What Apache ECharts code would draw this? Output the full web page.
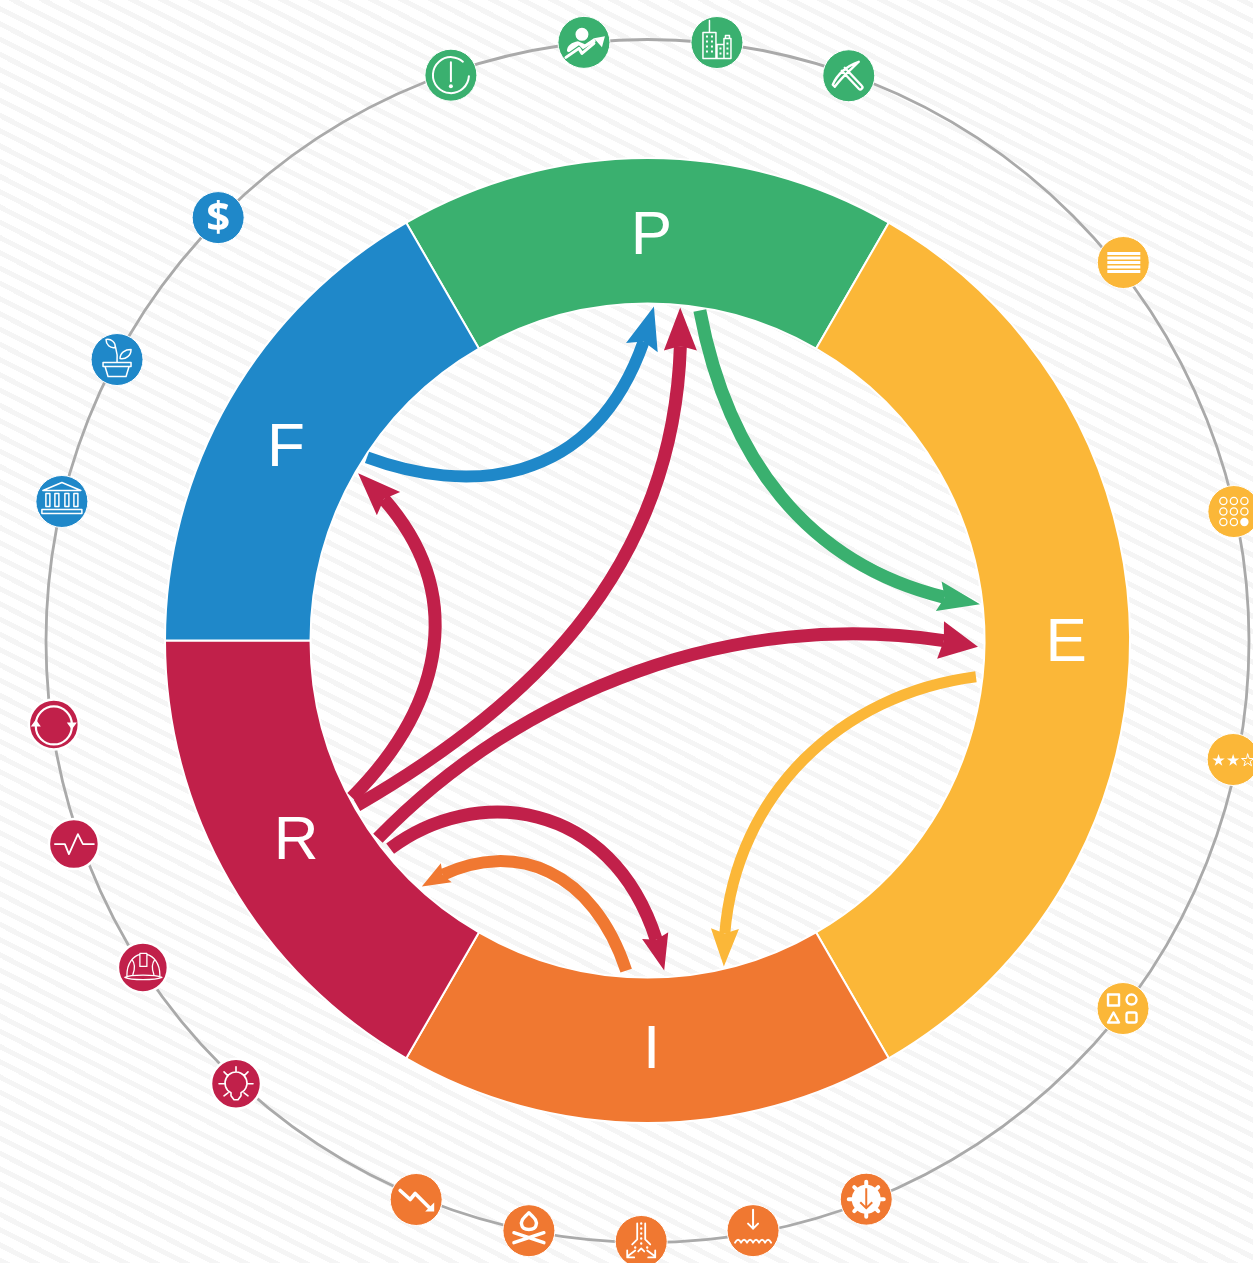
<!DOCTYPE html>
<html>
<head>
<meta charset="utf-8">
<title>PERFI ring</title>
<script src="https://cdn.jsdelivr.net/npm/echarts@6/dist/echarts.min.js"></script>
<style>
  html, body { margin: 0; padding: 0; background: #fff; overflow: hidden; }
  #main {
    width: 1253px; height: 1263px;
    background: repeating-linear-gradient(27deg, #f5f5f5 0, #f5f5f5 5px, #fff 5px, #fff 13.6px);
  }
</style>
</head>
<body>
<div id="main"></div>
<script>
// ring segments, clockwise from the upper left edge of P
var segmentNames = ['P', 'E', 'I', 'R', 'F'];
var segmentSpans = [60, 120, 60, 60, 60];
var segmentColors = ['#3ab06f', '#fbb738', '#f07831', '#c1204a', '#1f88c9'];

// arrows between segments
var arrowFrom = ['F', 'R', 'R', 'R', 'R', 'I', 'E', 'P'];
var arrowTo = ['P', 'P', 'F', 'E', 'I', 'R', 'I', 'E'];
// radius, angle of start, two bends, tip
var arrowPoints = [
  [335.2, 303.2, 229.5, 309.3, 155.1, 346.0, 334.6, 1.1],
  [333.8, 240.5, 134.0, 241.2, 91.0, 27.8, 335.1, 5.6],
  [334.4, 242.1, 197.0, 255.2, 195.0, 291.7, 334.5, 300.1],
  [334.1, 233.8, 124.0, 251.4, 119.6, 70.2, 330.5, 91.0],
  [330.7, 231.1, 218.0, 230.2, 160.5, 186.3, 329.9, 177.1],
  [330.2, 183.7, 226.9, 194.7, 244.1, 217.2, 333.4, 222.6],
  [330.4, 96.2, 190.5, 106.6, 184.4, 156.8, 334.4, 166.8],
  [334.6, 9.0, 189.4, 25.8, 182.8, 70.7, 334.5, 83.7]
];

// icons on the outer circle
var iconSegments = ['P', 'P', 'P', 'P', 'E', 'E', 'E', 'E', 'I', 'I', 'I', 'I', 'I', 'R', 'R', 'R', 'R', 'F', 'F', 'F'];
var iconAngles = [340.84, 353.94, 6.62, 19.6, 51.5, 77.55, 101.44, 127.7, 158.6, 169.85, 180.6, 191.37, 202.5, 222.9, 237.1, 250.5, 262, 283.4, 297.95, 314.6];
var iconRadii = [599, 602, 602.5, 600, 608, 600.5, 597.5, 601, 599.5, 599, 600.5, 601.5, 604.5, 604.5, 601, 608.5, 599.5, 602, 600.5, 603];

var arrowWidths = [12, 13, 13, 13, 13, 12, 11, 13];
var arrowHeadLengths = [43, 43, 43, 38, 36, 28, 38, 42];
var arrowHeadWidths = [33, 33, 33, 38, 27, 22, 28, 30];
var labelShift = [[4, 9], [6, 3], [4, -2], [6, -5], [-4, 15]];

function circle(x, y, r) {
  return 'M' + (x - r) + ' ' + y + 'A' + r + ' ' + r + ' 0 1 1 ' + (x + r) + ' ' + y + 'A' + r + ' ' + r + ' 0 1 1 ' + (x - r) + ' ' + y + 'Z';
}
function star(x, y) {
  var p = [[0,-6.5],[1.5,-2],[6.2,-2],[2.4,.8],[3.8,5.3],[0,2.6],[-3.8,5.3],[-2.4,.8],[-6.2,-2],[-1.5,-2]];
  return 'M' + p.map(function (q) { return (x + q[0]) + ' ' + (y + q[1]); }).join('L') + 'Z';
}

// white glyphs in a 52 box: s stroked, f filled, a stroked in the disc colour, t text
var iconGlyphs = [
  { w: 2, s: 'M44 27A18 18 0 1 1 38 12.5M26 13V32', f: circle(26, 37, 2) },
  { w: 3, s: 'M8 41L21 32L24 37L36 27', f: circle(24, 18, 6.5) + 'M9 35C9 29 14 26 20 25L27 28L36 22L38 25L25 33L21 29L11 36ZM47 20L36 22L44 31Z' },
  { w: 1.5, s: 'M18.5 4V16M12 16H25V42H12ZM26 28H33V42H26ZM33 22H40V42H33ZM34.5 22V19H38.5V22', f: 'M15 19h2v2h-2zM20 19h2v2h-2zM15 24h2v2h-2zM20 24h2v2h-2zM15 29h2v2h-2zM20 29h2v2h-2zM15 34h2v2h-2zM20 34h2v2h-2zM28.5 31h2v2h-2zM28.5 36h2v2h-2zM35.5 26h2v2h-2zM35.5 31h2v2h-2zM35.5 36h2v2h-2z' },
  { w: 2.4, s: 'M19 21L36 39C38 41 41 38 39 36L22 18M10 35C14 25 24 16 36 12C28 20 20 26 12 37Z' },
  { f: 'M10 15.5H43V18.5H10ZM10 20H43V23H10ZM10 24.5H43V27.5H10ZM10 29H43V32H10ZM10 33.5H43V36.5H10Z' },
  { w: 1.3, s: circle(15.5, 15.5, 3.6) + circle(26, 15.5, 3.6) + circle(36.5, 15.5, 3.6) + circle(15.5, 26, 3.6) + circle(26, 26, 3.6) + circle(36.5, 26, 3.6) + circle(15.5, 36.5, 3.6) + circle(26, 36.5, 3.6), f: circle(36.5, 36.5, 4.2) },
  { w: 1, s: star(40.6, 27), f: star(11.4, 27) + star(26, 27) },
  { w: 2.4, s: 'M11 12H22V23H11Z' + circle(34.5, 17, 5) + 'M16.5 30L22 40H11ZM31.5 30H37.5Q39.5 30 39.5 32V38Q39.5 40 37.5 40H31.5Q29.5 40 29.5 38V32Q29.5 30 31.5 30Z' },
  { w: 4, s: 'M26 8.5V12M26 40V43.5M8.5 26H12M40 26H43.5M14 14L16 16M38 14L36 16M14 38L16 36M38 38L36 36', f: circle(26, 26, 14.5), a: 'M26 15V35M20 29L26 35L32 29' },
  { w: 2, s: 'M26 5V24M21 19L26 24L31 19M8 38c2-4 4-4 6 0c2-4 4-4 6 0c2-4 4-4 6 0c2-4 4-4 6 0c2-4 4-4 6 0c2-4 4-4 6 0' },
  { w: 1.8, s: 'M22 8V24L17 29M30 8V24L35 29M20 35L12 41M32 35L40 41M12 35V42H19M40 35V42H33M23 36L26 33L29 36', f: circle(26, 8, 1.2) + circle(26, 13, 1.2) + circle(26, 18, 1.2) + circle(26, 23, 1.2) + circle(26, 28, 1.2) + circle(20, 32, 1.2) + circle(32, 32, 1.2) },
  { w: 3.4, s: 'M26 8C31 13 35 16 33 21C32 26 20 26 19 21C17 16 21 13 26 8ZM11 28L41 38M41 28L11 38' },
  { w: 3.6, s: 'M10 17L20 26L25 20L40 35', f: 'M44 38H35L44 29Z' },
  { w: 1.6, s: 'M21 35A11 11 0 1 1 31 35V38L28 42H24L21 38ZM26 9V14M9 26H14M38 26H43M14 14L18 18M38 14L34 18M14 38L18 35M38 38L34 35' },
  { w: 1.3, s: 'M8 36C14 39 38 39 45 36C38 33 14 33 8 36ZM10 34C10 22 16 15 23 13M30 13C37 15 43 22 43 34M23 12H30V25H23ZM15 18C18 22 18 28 16 33M38 18C35 22 35 28 37 33' },
  { w: 1.8, s: 'M7 26H17L21 36L30 16L35 26H46' },
  { w: 2.2, s: 'M8 26A18 18 0 0 1 44 26M44 28A18 18 0 0 1 8 28', f: 'M39 24H49L44 31ZM3 28H13L8 21Z' },
  { w: 1.5, s: 'M7 15L26 7L45 15ZM6 34H46V38H6ZM10 18H14V31H10ZM19 18H23V31H19ZM29 18H33V31H29ZM38 18H42V31H38Z' },
  { w: 1.5, s: 'M12 29H40V33H12ZM14 33L17 43H35L38 33M26 28C27 20 25 16 24 12M15 6C20 5 25 9 24 14C19 15 15 11 15 6ZM29 25C29 19 34 16 40 16C40 22 35 26 29 25Z' },
  { t: '$' }
];

function segmentColor(name) {
  return segmentColors[segmentNames.indexOf(name)];
}

function lerp(a, b, t) {
  return [a[0] + (b[0] - a[0]) * t, a[1] + (b[1] - a[1]) * t];
}
function dist(a, b) {
  return Math.sqrt((a[0] - b[0]) * (a[0] - b[0]) + (a[1] - b[1]) * (a[1] - b[1]));
}
// cut a cubic at t, returns first part
function cutCurve(p, t) {
  var a = lerp(p[0], p[1], t), b = lerp(p[1], p[2], t), c = lerp(p[2], p[3], t);
  var d = lerp(a, b, t), e = lerp(b, c, t);
  return [p[0], a, d, lerp(d, e, t)];
}

function renderArrow(params, api) {
  var i = params.dataIndex;
  var p = [0, 1, 2, 3].map(function (k) {
    return api.coord([api.value(k * 2), api.value(k * 2 + 1)]);
  });
  var color = segmentColor(arrowFrom[i]);
  var len = arrowHeadLengths[i], wide = arrowHeadWidths[i];
  var tip = p[3];

  // walk back from the tip until we reach the base of the head
  var t = 1, part = p;
  while (t > 0 && dist(part[3], tip) < len * 0.85) {
    t -= 0.004;
    part = cutCurve(p, t);
  }
  var neck = part[3];
  var ux = (tip[0] - neck[0]) / dist(tip, neck), uy = (tip[1] - neck[1]) / dist(tip, neck);
  var bx = tip[0] - ux * len, by = tip[1] - uy * len;

  return {
    type: 'group',
    children: [{
      type: 'bezierCurve',
      shape: {
        x1: part[0][0], y1: part[0][1], cpx1: part[1][0], cpy1: part[1][1],
        cpx2: part[2][0], cpy2: part[2][1], x2: part[3][0], y2: part[3][1]
      },
      style: { fill: 'none', stroke: color, lineWidth: arrowWidths[i] }
    }, {
      type: 'polygon',
      shape: {
        points: [
          tip,
          [bx - uy * wide / 2, by + ux * wide / 2],
          neck,
          [bx + uy * wide / 2, by - ux * wide / 2]
        ]
      },
      style: { fill: color }
    }]
  };
}

function renderIcon(params, api) {
  var i = params.dataIndex;
  var c = api.coord([api.value(0), api.value(1)]);
  var g = iconGlyphs[i];
  var seg = iconSegments[i];
  var color = segmentColor(seg);
  function glyph(d, style) {
    return {
      type: 'path',
      shape: { pathData: 'M0 0M52 52' + d, x: c[0] - 26, y: c[1] - 26, width: 52, height: 52, layout: 'cover' },
      style: style
    };
  }
  var children = [{
    type: 'circle',
    shape: { cx: c[0], cy: c[1], r: seg === 'R' ? 25 : 26 },
    style: { fill: color, stroke: '#fff', lineWidth: seg === 'R' ? 2.5 : 1 }
  }];
  if (g.f) children.push(glyph(g.f, { fill: '#fff' }));
  if (g.s) children.push(glyph(g.s, { fill: 'none', stroke: '#fff', lineWidth: g.w, lineJoin: 'round', lineCap: 'round' }));
  if (g.a) children.push(glyph(g.a, { fill: 'none', stroke: color, lineWidth: 2 }));
  if (g.t) children.push({
    type: 'text',
    style: { x: c[0], y: c[1] + 1, text: g.t, fill: '#fff', font: 'bold 42px "Open Sans"', align: 'center', verticalAlign: 'middle' }
  });
  return { type: 'group', children: children };
}

var chart = echarts.init(document.getElementById('main'), null, { width: 1253, height: 1263 });
chart.setOption({
  animation: false,
  polar: { center: [647.5, 641], radius: 601.5 },
  angleAxis: {
    type: 'value', min: 0, max: 360, startAngle: 90,
    axisLine: { lineStyle: { color: '#aaaaaa', width: 2.8 } },
    axisTick: { show: false }, axisLabel: { show: false }, splitLine: { show: false }
  },
  radiusAxis: { type: 'value', min: 0, max: 601.5, show: false, splitLine: { show: false } },
  series: [{
    type: 'pie',
    silent: true,
    center: [647.5, 640.5],
    radius: [337, 482.5],
    startAngle: 120,
    avoidLabelOverlap: false,
    itemStyle: { borderColor: '#fff', borderWidth: 2 },
    label: { position: 'inside', formatter: '{b}', color: '#fff', fontSize: 62, fontFamily: 'Liberation Sans' },
    labelLine: { show: false },
    labelLayout: function (params) {
      return { dx: labelShift[params.dataIndex][0], dy: labelShift[params.dataIndex][1] };
    },
    emphasis: { disabled: true },
    data: segmentNames.map(function (n, i) {
      return { name: n, value: segmentSpans[i], itemStyle: { color: segmentColors[i] } };
    })
  }, {
    type: 'custom',
    name: 'arrows',
    coordinateSystem: 'polar',
    silent: true,
    z: 5,
    clip: false,
    renderItem: renderArrow,
    encode: { radius: 6, angle: 7 },
    data: arrowPoints
  }, {
    type: 'custom',
    name: 'icons',
    coordinateSystem: 'polar',
    silent: true,
    z: 6,
    clip: false,
    renderItem: renderIcon,
    encode: { radius: 0, angle: 1 },
    data: iconAngles.map(function (a, i) { return [iconRadii[i], a]; })
  }]
});
</script>
</body>
</html>
